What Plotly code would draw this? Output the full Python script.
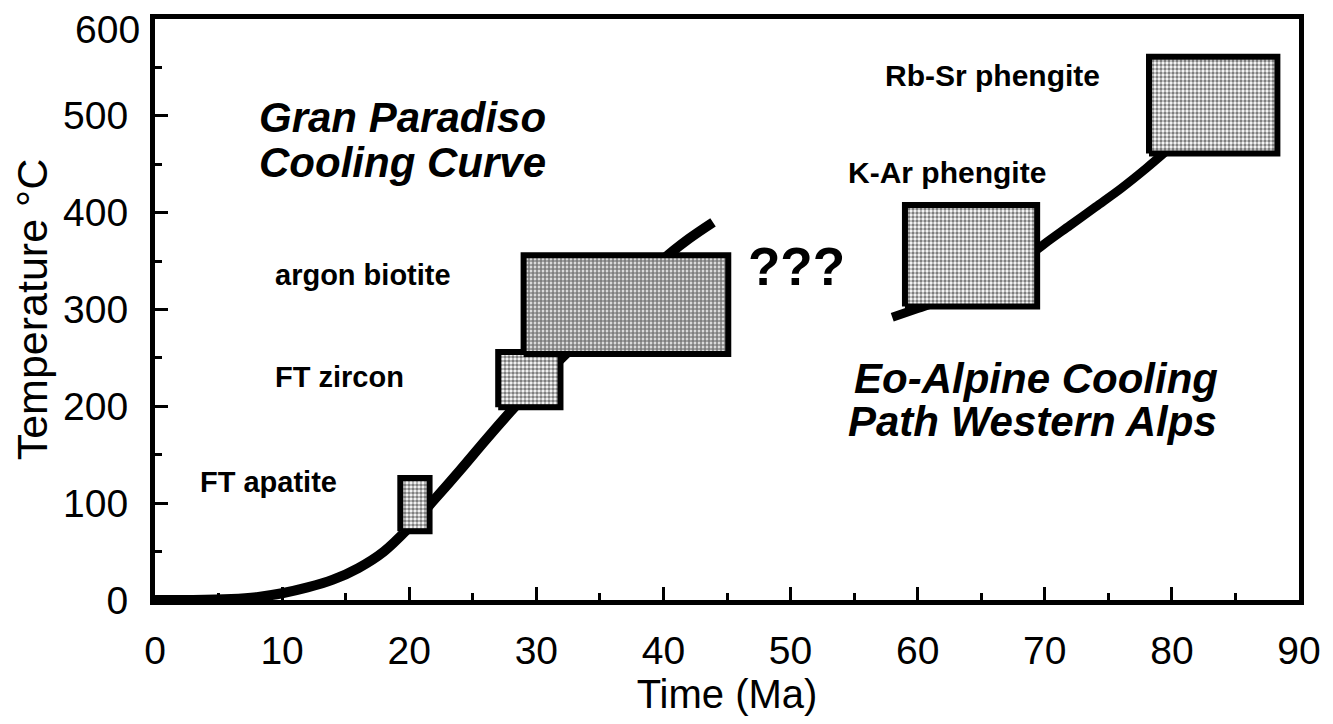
import plotly.graph_objects as go

# ---------------- data ----------------
box_names = ["FT apatite", "FT zircon", "argon biotite", "K-Ar phengite", "Rb-Sr phengite"]
box_t_min = [19.3, 27.0, 29.0, 59.0, 78.2]
box_t_max = [21.6, 31.9, 45.1, 69.4, 88.3]
box_T_min = [71, 199, 254, 303, 461]
box_T_max = [126, 256, 356, 408, 561]
box_solidity = [0.62, 0.62, 0.72, 0.55, 0.55]

gp_time = [0, 3, 6, 8, 10, 12, 14, 16, 18, 20, 22, 24, 26, 28, 30, 32, 34, 36, 38, 40, 42, 43.9]
gp_temp = [0, 0, 1, 3, 7, 13, 21, 33, 50, 75, 104, 134, 165, 195, 224, 250, 276, 302, 326, 352, 373, 390]

ea_time = [58.0, 60, 62, 64, 66, 68, 70, 72, 74, 76, 78, 79.6]
ea_temp = [292, 301, 310, 320, 332, 348, 368, 387, 406, 425, 446, 464]

x_ticks = [0, 10, 20, 30, 40, 50, 60, 70, 80, 90]
y_ticks = [0, 100, 200, 300, 400, 500, 600]

FONT = "Liberation Sans"

fig = go.Figure()

# cooling curves (drawn first so boxes hide them)
fig.add_trace(go.Scatter(x=gp_time, y=gp_temp, mode="lines", line=dict(color="black", width=10, shape="spline"),
                         hoverinfo="skip", showlegend=False))
fig.add_trace(go.Scatter(x=ea_time, y=ea_temp, mode="lines", line=dict(color="black", width=9, shape="spline"),
                         hoverinfo="skip", showlegend=False))

# age boxes
for name, a, b, c, d, s in zip(box_names, box_t_min, box_t_max, box_T_min, box_T_max, box_solidity):
    fig.add_trace(go.Scatter(
        x=[a, b, b, a, a], y=[c, c, d, d, c], mode="lines", fill="toself",
        fillcolor="white",
        fillpattern=dict(shape=".", fgcolor="black", bgcolor="white", size=4, solidity=s),
        line=dict(color="black", width=6), name=name, showlegend=False, hoverinfo="name"))

# text labels
def label(x, y, text, size, bold=True, italic=False):
    fig.add_annotation(x=x, y=y, xref="x", yref="y", text=text, showarrow=False,
                       xanchor="left", yanchor="middle",
                       font=dict(family=FONT, size=size, color="black",
                                 weight="bold" if bold else "normal",
                                 style="italic" if italic else "normal"))

label(8.0, 498, "Gran Paradiso", 42, italic=True)
label(8.0, 452, "Cooling Curve", 42, italic=True)
label(9.3, 336, "argon biotite", 29)
label(9.3, 230, "FT zircon", 29)
label(3.4, 122, "FT apatite", 29)
label(46.5, 344, "???", 53)
label(57.3, 542, "Rb-Sr phengite", 30)
label(54.4, 442, "K-Ar phengite", 30)
label(54.8, 229, "Eo-Alpine Cooling", 42, italic=True)
label(54.4, 184, "Path Western Alps", 42, italic=True)

# top y tick label sits a little below its tick (keeps it inside the page)
y_ticktext = [str(v) for v in y_ticks]
y_ticktext[-1] = ""
fig.add_annotation(x=0, y=y_ticks[-1], xref="paper", yref="y", text=str(y_ticks[-1]), showarrow=False,
                   xanchor="right", yanchor="middle", xshift=-13, yshift=-10,
                   font=dict(family=FONT, size=39, color="black"))

fig.update_xaxes(range=[0, 90], tickvals=x_ticks, ticktext=[str(v) for v in x_ticks],
                 ticks="inside", ticklen=13, tickwidth=3, tickcolor="black",
                 minor=dict(dtick=5, ticks="inside", ticklen=7, tickwidth=3, tickcolor="black"),
                 showline=True, linewidth=5, linecolor="black", mirror=True,
                 showgrid=False, zeroline=False, automargin=False,
                 ticklabeloverflow="allow",
                 tickfont=dict(family=FONT, size=39, color="black"), ticklabelstandoff=12,
                 title=dict(text="Time (Ma)", font=dict(family=FONT, size=40, color="black"), standoff=4))
fig.update_yaxes(range=[0, 600], tickvals=y_ticks, ticktext=y_ticktext,
                 ticks="inside", ticklen=13, tickwidth=3, tickcolor="black",
                 minor=dict(dtick=50, ticks="inside", ticklen=7, tickwidth=3, tickcolor="black"),
                 showline=True, linewidth=5, linecolor="black", mirror=True,
                 showgrid=False, zeroline=False, automargin=False,
                 ticklabeloverflow="allow",
                 tickfont=dict(family=FONT, size=39, color="black"), ticklabelstandoff=14,
                 title=dict(text="Temperature °C", font=dict(family=FONT, size=43, color="black"), standoff=8))

# page body has an 8px default margin, so margins are reduced by 8 on top/left
fig.update_layout(width=1333, height=724, paper_bgcolor="white", plot_bgcolor="white",
                  margin=dict(l=147, r=42, t=11, b=132), showlegend=False)

fig.write_html("out.html")
